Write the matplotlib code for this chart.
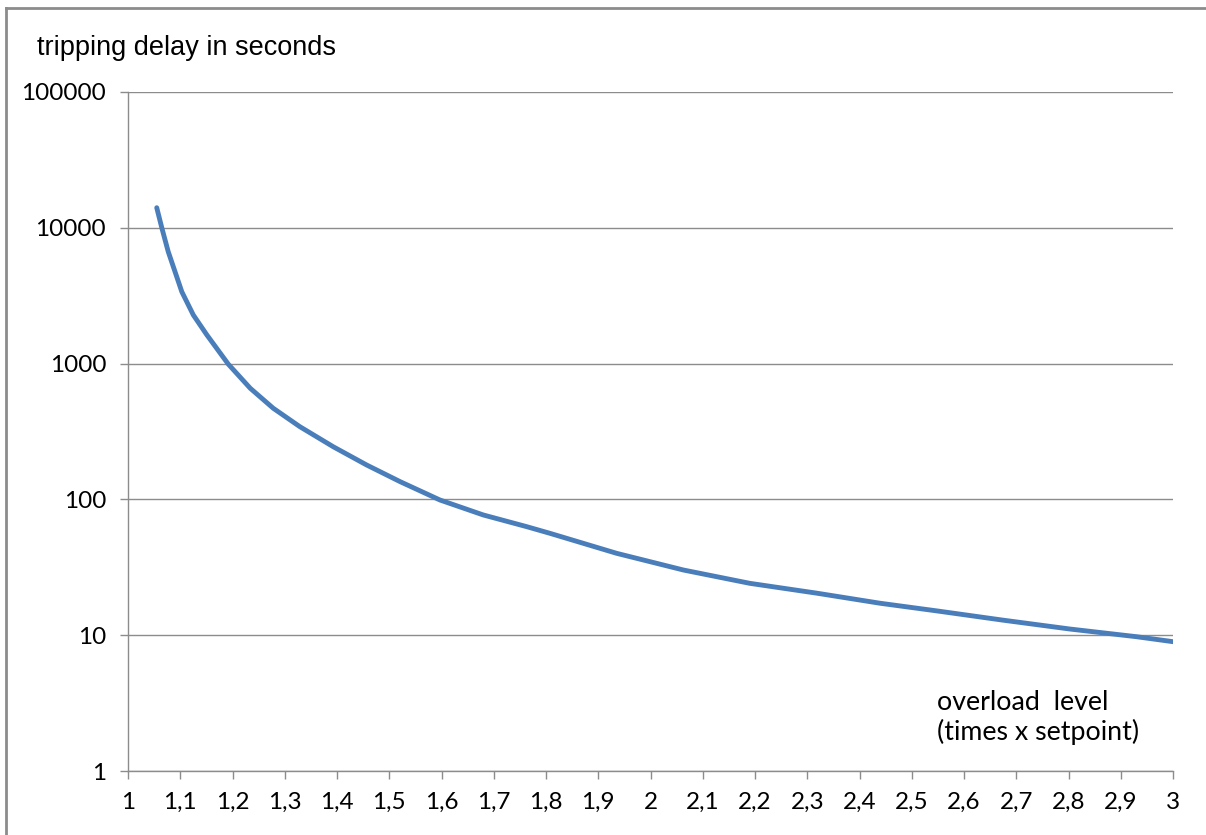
import matplotlib
matplotlib.use("Agg")
import matplotlib.pyplot as plt
from matplotlib.lines import Line2D
from matplotlib.ticker import FixedLocator, FixedFormatter

# overload level (times x setpoint) vs tripping delay (s)
overload = [1.055, 1.065, 1.077, 1.09, 1.103, 1.125, 1.151, 1.192, 1.234,
            1.278, 1.329, 1.393, 1.457, 1.521, 1.597, 1.68, 1.763, 1.808,
            1.935, 2.063, 2.19, 2.318, 2.439, 2.548, 2.675, 2.803, 2.93, 3.0]
delay = [14060, 9900, 6670, 4750, 3380, 2280, 1625, 990, 658,
         469, 343, 244, 179, 135, 99, 76.8, 63, 56.2,
         40.1, 30.2, 24.1, 20.4, 17.2, 15.1, 12.9, 11.1, 9.75, 8.96]

xticks = [1, 1.1, 1.2, 1.3, 1.4, 1.5, 1.6, 1.7, 1.8, 1.9, 2,
          2.1, 2.2, 2.3, 2.4, 2.5, 2.6, 2.7, 2.8, 2.9, 3]
xlabels = ["1", "1,1", "1,2", "1,3", "1,4", "1,5", "1,6", "1,7", "1,8", "1,9", "2",
           "2,1", "2,2", "2,3", "2,4", "2,5", "2,6", "2,7", "2,8", "2,9", "3"]
yticks = [1, 10, 100, 1000, 10000, 100000]
ylabels = ["1", "10", "100", "1000", "10000", "100000"]

fig = plt.figure(figsize=(12.06, 8.35), dpi=100)
ax = fig.add_axes([128 / 1206, 64 / 835, 1045 / 1206, 679 / 835])

ax.plot(overload, delay, color="#4a7ebb", lw=3.5,
        solid_capstyle="round", solid_joinstyle="round")

ax.set_yscale("log")
ax.set_xlim(1, 3)
ax.set_ylim(1, 100000)
ax.yaxis.set_major_locator(FixedLocator(yticks))
ax.yaxis.set_major_formatter(FixedFormatter(ylabels))
ax.yaxis.set_minor_locator(FixedLocator([]))
ax.set_xticks(xticks)
ax.set_xticklabels(xlabels)

ax.grid(axis="y", color="#8c8c8c", lw=1)
ax.set_axisbelow(True)
for s in ["top", "right"]:
    ax.spines[s].set_visible(False)
for s in ["left", "bottom"]:
    ax.spines[s].set_color("#8c8c8c")
    ax.spines[s].set_linewidth(1)

ax.tick_params(axis="both", colors="#8c8c8c", length=5.8, width=1,
               labelcolor="black", labelsize=17.5)
ax.tick_params(axis="x", pad=9)
ax.tick_params(axis="y", pad=10)
for lab in ax.get_xticklabels() + ax.get_yticklabels():
    lab.set_family("Lato")

fig.text(37 / 1206, 1 - 48 / 835, "tripping delay in seconds",
         fontsize=19.5, family="Liberation Sans", va="center", ha="left")
fig.text(937 / 1206, 1 - 690 / 835, "overload  level\n(times x setpoint)",
         fontsize=19.3, family="Lato", va="top", ha="left", linespacing=1.2)

# chart frame (only top and left edges visible)
fig.add_artist(Line2D([6 / 1206, 6 / 1206], [0, 1 - 8 / 835],
                      transform=fig.transFigure, color="#8c8c8c", lw=2))
fig.add_artist(Line2D([6 / 1206, 1], [1 - 8 / 835, 1 - 8 / 835],
                      transform=fig.transFigure, color="#8c8c8c", lw=2))

fig.savefig("out.png", dpi=100)
